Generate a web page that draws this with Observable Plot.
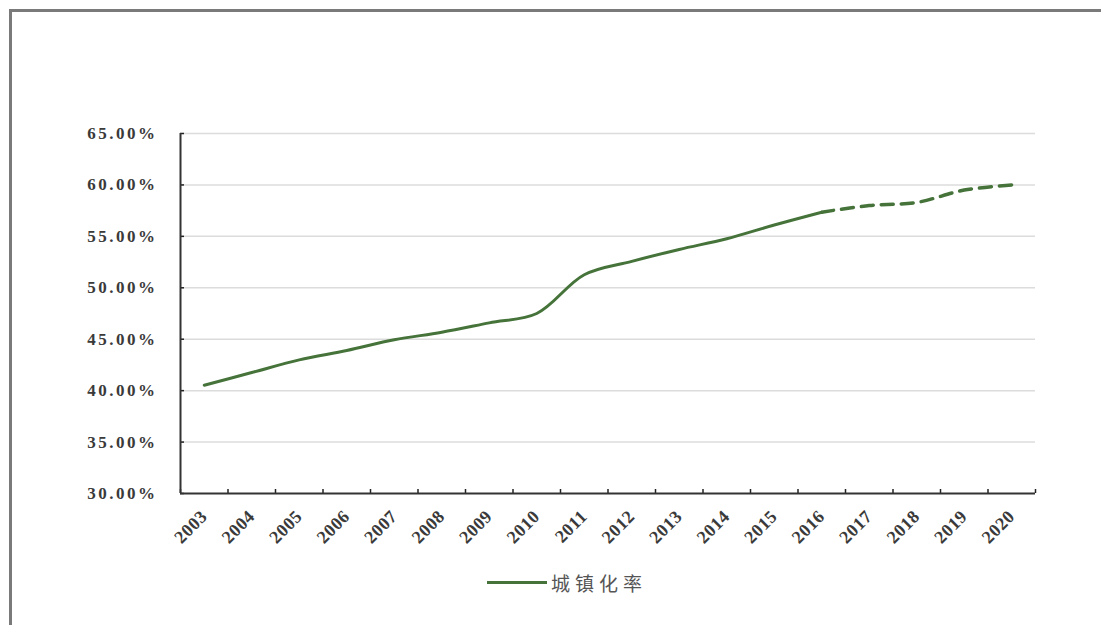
<!DOCTYPE html>
<html><head><meta charset="utf-8">
<script src="https://cdn.jsdelivr.net/npm/d3@7"></script>
<script src="https://cdn.jsdelivr.net/npm/@observablehq/plot@0.6"></script>
<style>
html,body{margin:0;padding:0;background:#fff;}
body{width:1101px;height:625px;position:relative;overflow:hidden;font-family:"Liberation Serif",serif;}
#frame{position:absolute;left:9px;top:9px;width:1092px;height:616px;border-top:3px solid #7a7a7a;border-left:3px solid #7a7a7a;box-sizing:border-box;}
#chart{position:absolute;left:0;top:0;}
#legend{position:absolute;left:487px;top:569px;height:26px;display:flex;align-items:center;font-family:"Noto Sans CJK SC",sans-serif;font-size:19px;letter-spacing:5px;color:#555;}
#legend .sw{width:60px;height:0;border-top:3px solid #45733a;margin-right:4px;}
</style></head>
<body>
<div id="frame"></div>
<div id="chart"></div>
<div id="legend"><span class="sw"></span><span id="legtext"></span></div>
<script>
const years = [2003,2004,2005,2006,2007,2008,2009,2010,2011,2012,2013,2014,2015,2016,2017,2018,2019,2020];
const rate  = [40.53,41.76,42.99,43.90,44.94,45.68,46.59,47.50,51.27,52.57,53.73,54.77,56.10,57.35,58.00,58.30,59.50,60.00];
const lastActualYear = 2016;
const yTicks = [30,35,40,45,50,55,60,65];
const yDomain = [30,65];
const seriesName = "城镇化率";

document.getElementById("legtext").textContent = seriesName;

const rows = years.map((y,i)=>({year:y, value:rate[i]}));
const actual = rows.filter(d=>d.year<=lastActualYear);
const forecast = rows.filter(d=>d.year>=lastActualYear);
const bounds = [years[0]-0.5, ...years.map(y=>y+0.5)];
const green = "#45733a";

const chart = Plot.plot({
  width:1101, height:560,
  marginLeft:180, marginRight:66, marginTop:133, marginBottom:67,
  style:{fontFamily:"'Liberation Serif',serif", fontSize:"16px", color:"#3a3a3a", background:"transparent"},
  x:{domain:[bounds[0], bounds[bounds.length-1]]},
  y:{domain:yDomain},
  marks:[
    Plot.gridY(yTicks.slice(1), {stroke:"#dcdcdc", strokeOpacity:1, strokeWidth:1.5}),
    Plot.axisY({ticks:yTicks, tickSize:0, tickPadding:23, tickFormat:d=>d.toFixed(2)+"%", label:null, fontSize:17, fontWeight:"bold"}),
    Plot.axisY({ticks:yTicks, tickSize:-4, tickFormat:()=>"", label:null, stroke:"#222", strokeWidth:1.5}),
    Plot.axisX({ticks:years, tickSize:0, tickPadding:20, tickRotate:-45, tickFormat:d=>String(d), label:null, fontSize:18, fontWeight:"bold"}),
    Plot.axisX({ticks:bounds, tickSize:-4, tickFormat:()=>"", label:null, stroke:"#222", strokeWidth:1.5}),
    Plot.ruleY([yDomain[0]], {stroke:"#333", strokeWidth:2}),
    Plot.ruleX([bounds[0]], {stroke:"#333", strokeWidth:2}),
    Plot.line(actual, {x:"year", y:"value", stroke:green, strokeWidth:3, curve:"catmull-rom"}),
    Plot.line(forecast, {x:"year", y:"value", stroke:green, strokeWidth:3.5, curve:"catmull-rom", strokeDasharray:"12,8"})
  ]
});
d3.select(chart).selectAll("g[aria-label='y-axis tick label'] text").style("letter-spacing","2.5px");
d3.select(chart).selectAll("g[aria-label='x-axis tick label'] text").style("letter-spacing","0.5px");
document.getElementById("chart").appendChild(chart);
</script>
</body></html>
